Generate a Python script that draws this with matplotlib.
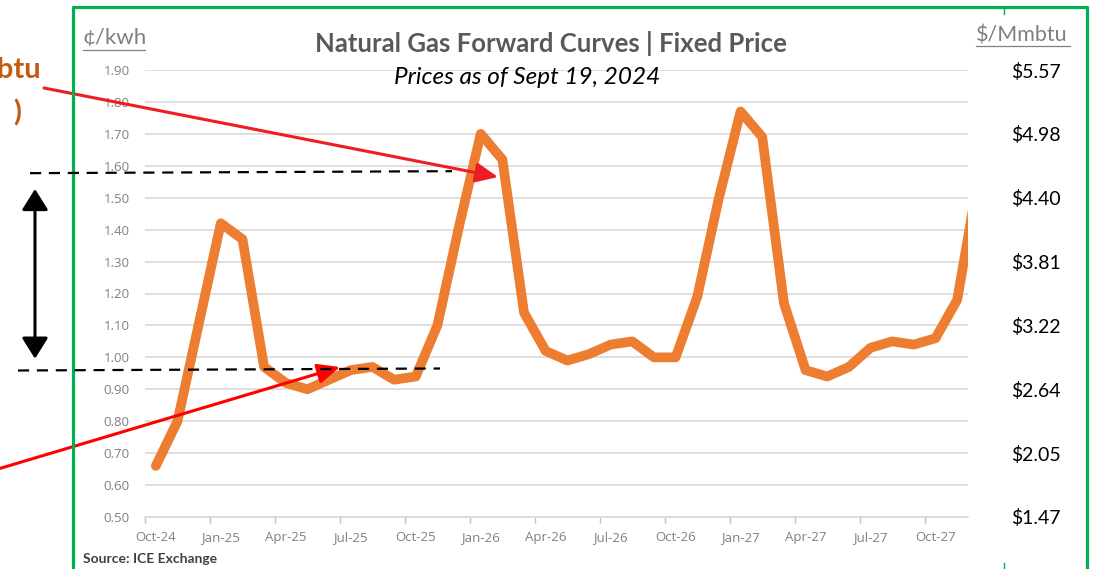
import numpy as np
import matplotlib
matplotlib.use("Agg")
import matplotlib.pyplot as plt
from matplotlib.lines import Line2D
from matplotlib.patches import FancyArrowPatch

# forward curve, cents per kWh, one point per month from Oct-24
values = [0.66, 0.80, 1.11, 1.42, 1.37, 0.97, 0.92, 0.90, 0.93, 0.96,
          0.97, 0.93, 0.94, 1.10, 1.41, 1.70, 1.62, 1.14, 1.02, 0.99,
          1.01, 1.04, 1.05, 1.00, 1.00, 1.19, 1.50, 1.77, 1.69, 1.17,
          0.96, 0.94, 0.97, 1.03, 1.05, 1.04, 1.06, 1.18, 1.57]
n_visible = 38  # Oct-24 .. Nov-27 shown, Dec-27 cut off by the crop

xtick_labels = ["Oct-24", "Jan-25", "Apr-25", "Jul-25", "Oct-25", "Jan-26", "Apr-26",
                "Jul-26", "Oct-26", "Jan-27", "Apr-27", "Jul-27", "Oct-27"]
ytick_values = [0.50, 0.60, 0.70, 0.80, 0.90, 1.00, 1.10, 1.20, 1.30, 1.40, 1.50, 1.60, 1.70, 1.80, 1.90]
right_values = [0.50, 0.70, 0.90, 1.10, 1.30, 1.50, 1.70, 1.90]
right_labels = ["$1.47", "$2.05", "$2.64", "$3.22", "$3.81", "$4.40", "$4.98", "$5.57"]

winter_level = 1.58   # upper dashed line
summer_level = 0.962  # lower dashed line

W, H = 1094, 569
fig = plt.figure(figsize=(W / 100, H / 100), dpi=100)


def fx(x):
    return x / W


def fy(y):
    return 1 - y / H


ax = fig.add_axes([fx(145), fy(517), (968 - 145) / W, (517 - 70) / H])
x = np.arange(len(values))
ax.plot(x, values, color="#ED7D31", lw=7, solid_capstyle="round",
        solid_joinstyle="round", zorder=3)

ax.set_xlim(-0.5, n_visible - 0.5)
ax.set_ylim(0.5, 1.9)
ax.set_yticks(ytick_values)
ax.set_yticklabels([f"{v:.2f}" for v in ytick_values])
ax.set_xticks(np.arange(0, n_visible, 3))
ax.set_xticklabels(xtick_labels)
ax.set_xticks(np.arange(-0.5, n_visible, 3), minor=True)
ax.tick_params(axis="x", which="major", length=0, pad=10, labelsize=9.5,
               labelcolor="#808080")
ax.tick_params(axis="x", which="minor", length=4, width=1, color="#BFBFBF")
ax.tick_params(axis="y", length=0, pad=11, labelsize=9.5, labelcolor="#808080")
for lab in ax.get_xticklabels() + ax.get_yticklabels():
    lab.set_family("Open Sans")
ax.grid(axis="y", color="#D9D9D9", lw=1.2)
ax.set_axisbelow(True)
for s in ["top", "right", "left"]:
    ax.spines[s].set_visible(False)
ax.spines["bottom"].set_color("#D9D9D9")
ax.spines["bottom"].set_linewidth(1.2)

ax2 = ax.twinx()
ax2.set_ylim(ax.get_ylim())
ax2.set_yticks(right_values)
ax2.set_yticklabels(right_labels, family="Lato", fontsize=14)
ax2.tick_params(axis="y", length=0, pad=31)
for s in ax2.spines.values():
    s.set_visible(False)

# titles
fig.text(fx(551), fy(44), "Natural Gas Forward Curves | Fixed Price", ha="center",
         va="center", fontsize=18.5, fontweight="bold", color="#595959", family="Lato")
fig.text(fx(527), fy(78), "Prices as of Sept 19, 2024", ha="center", va="center",
         fontsize=17.5, style="italic", color="black", family="Lato")

# unit labels with underline
fig.text(fx(83), fy(38), "¢/kwh", ha="left", va="center", fontsize=16,
         color="#808080", family="Lato")
fig.add_artist(Line2D([fx(83), fx(145)], [fy(50), fy(50)], color="#808080", lw=0.9))
fig.text(fx(976), fy(35), "$/Mmbtu", ha="left", va="center", fontsize=15.5,
         color="#808080", family="Lato")
fig.add_artist(Line2D([fx(976), fx(1070)], [fy(46), fy(46)], color="#808080", lw=0.9))

fig.text(fx(83), fy(559), "Source: ICE Exchange", ha="left", va="center",
         fontsize=10, fontweight="bold", color="#404040", family="Lato")

# green frame
fig.add_artist(Line2D([fx(73), fx(73), fx(1087), fx(1087)],
                      [fy(575), fy(7), fy(7), fy(575)], color="#00B050", lw=2.3))
fig.add_artist(Line2D([fx(1004), fx(1004)], [fy(7), fy(14)], color="#00B050", lw=1))
fig.add_artist(Line2D([fx(1004), fx(1004)], [fy(563), fy(569)], color="#00B050", lw=1))

# cut-off callout text on the left
fig.text(fx(41), fy(70), "(Mmbtu", ha="right", va="center", fontsize=21,
         fontweight="bold", color="#C55A11", family="Lato")
fig.text(fx(21), fy(113), ")", ha="right", va="center", fontsize=21,
         fontweight="bold", color="#C55A11", family="Lato")


def level_y(v):
    # figure y (pixels from top) of a data level
    return 70 + (1.9 - v) / 1.4 * 447


# dashed reference lines
y1 = level_y(winter_level)
y2 = level_y(summer_level)
fig.add_artist(Line2D([fx(30), fx(452)], [fy(y1 + 1), fy(y1 - 1)], color="black",
                      lw=1.6, dashes=(5, 3.5)))
fig.add_artist(Line2D([fx(18), fx(440)], [fy(y2 + 1), fy(y2 - 1)], color="black",
                      lw=1.6, dashes=(5, 3.5)))

# double arrow between the two levels
fig.add_artist(FancyArrowPatch((fx(35), fy(y1 + 14)), (fx(35), fy(y2 - 8)),
                               transform=fig.transFigure, arrowstyle="<|-|>,head_length=8,head_width=5",
                               color="black", lw=2.2, mutation_scale=1.6))

# red arrows
fig.add_artist(FancyArrowPatch((fx(44), fy(88)), (fx(498), fy(177)),
                               transform=fig.transFigure, arrowstyle="-|>,head_length=9,head_width=4",
                               color="#EE1C25", lw=2.2, mutation_scale=1.5, shrinkA=0, shrinkB=0))
fig.add_artist(FancyArrowPatch((fx(-2), fy(469)), (fx(340), fy(367)),
                               transform=fig.transFigure, arrowstyle="-|>,head_length=9,head_width=4",
                               color="#FF0000", lw=2.2, mutation_scale=1.5, shrinkA=0, shrinkB=0))

fig.savefig("out.png", dpi=100)
